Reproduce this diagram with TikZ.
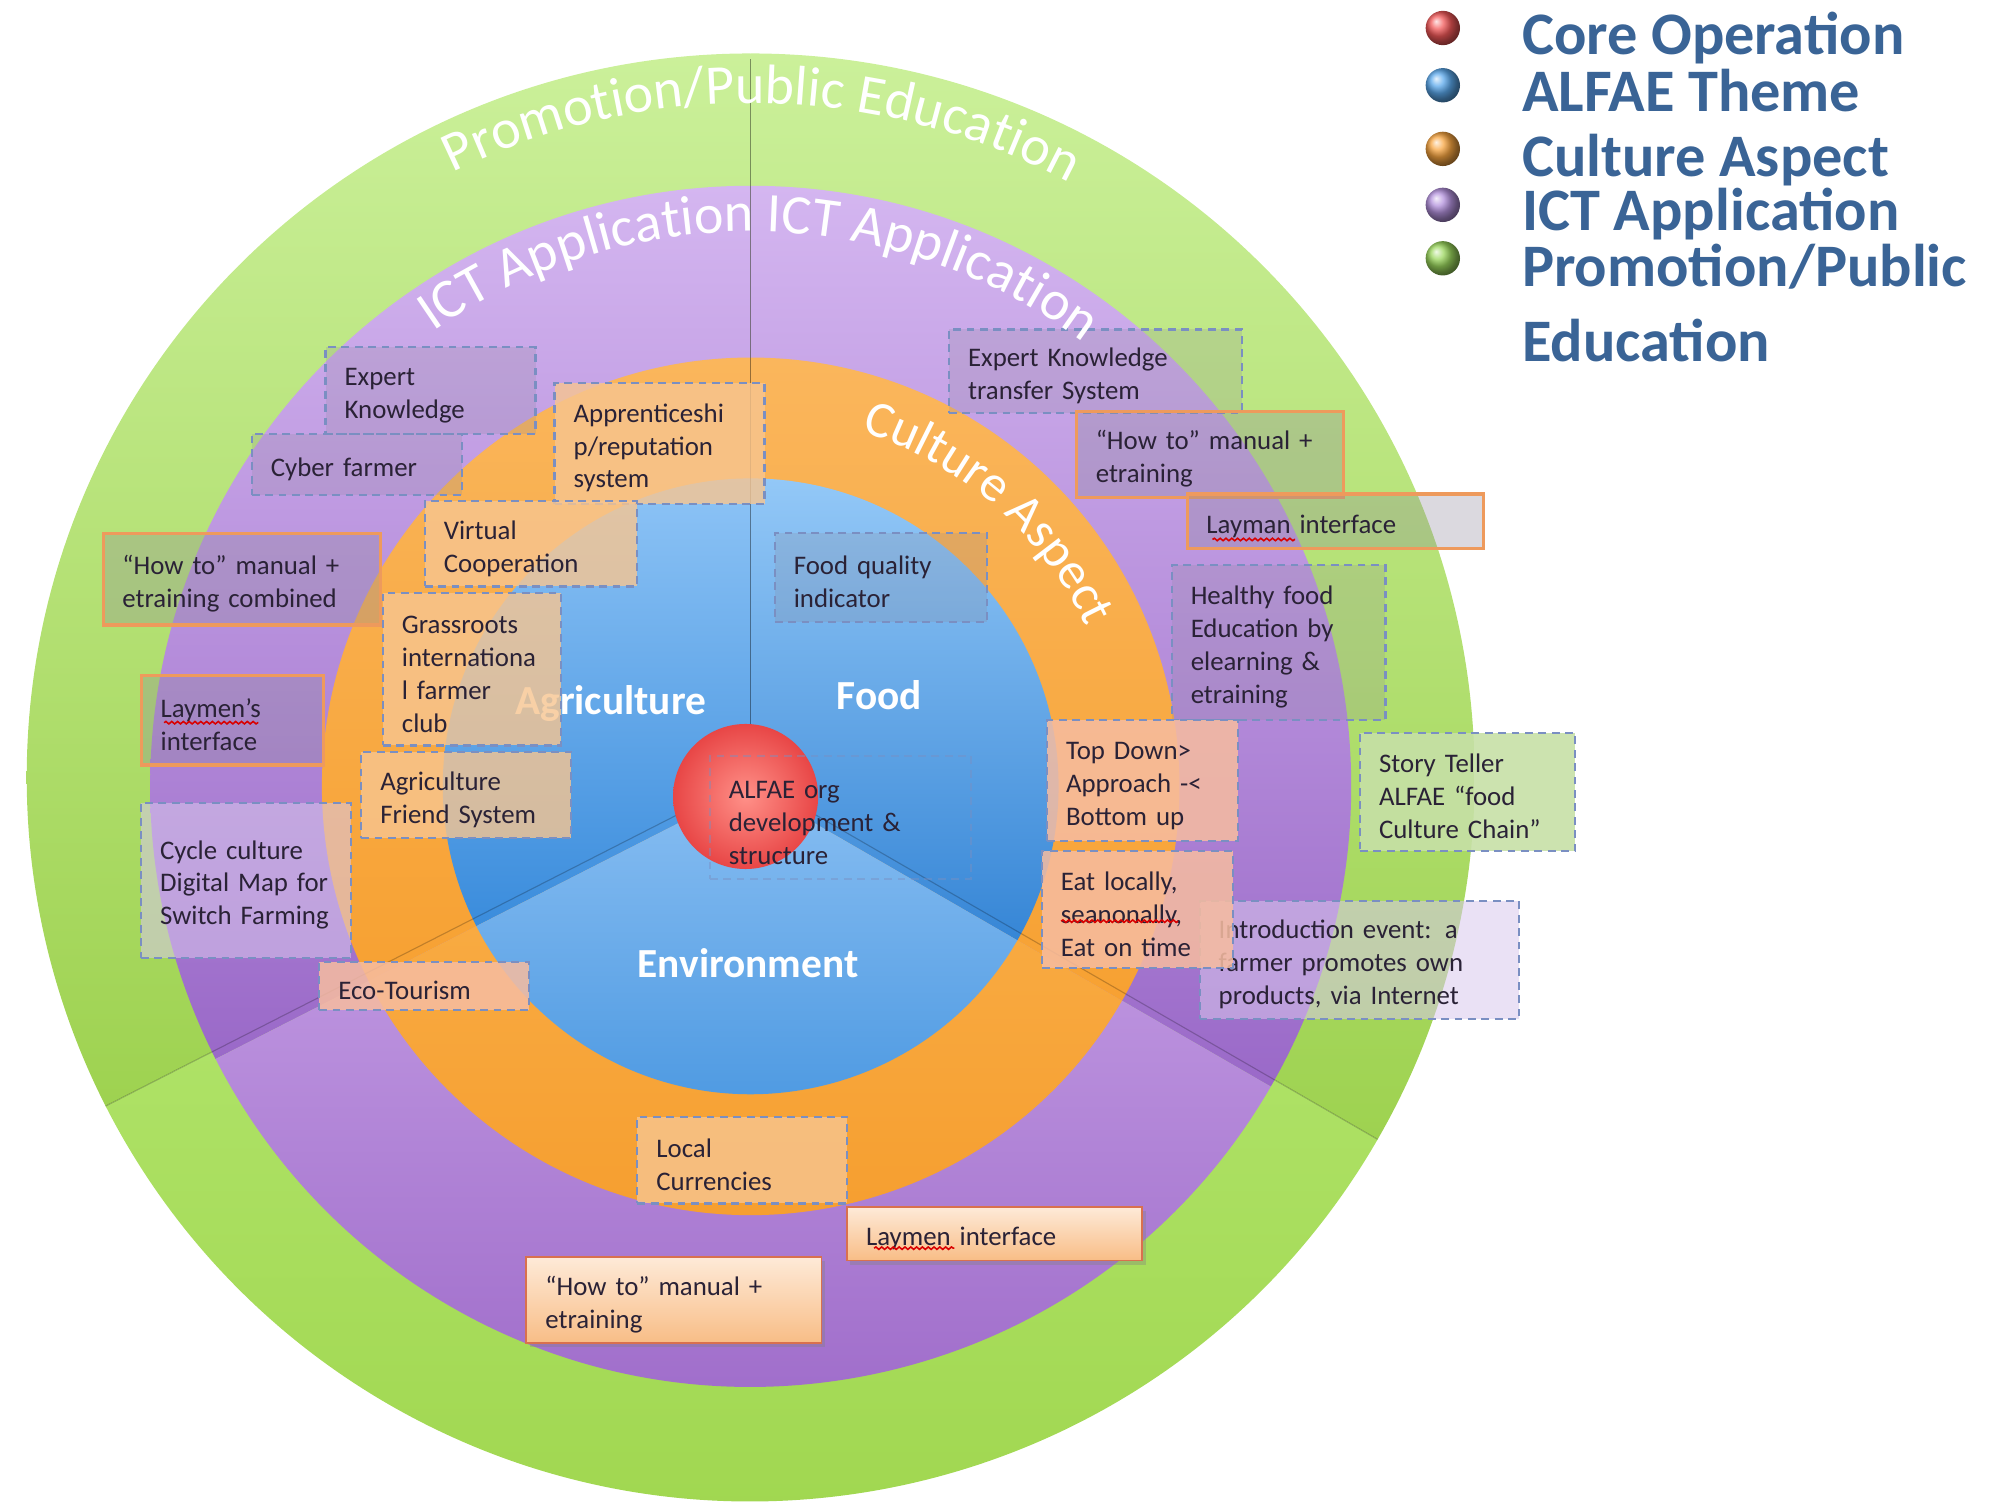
\documentclass[tikz,border=0pt]{standalone}
\usepackage{fontspec}
\setmainfont{Carlito}
\usetikzlibrary{decorations.text,decorations.pathmorphing,shadows,calc}
\def\px{0.02cm}
\definecolor{gA1}{HTML}{CBF09A}\definecolor{gA2}{HTML}{9ED250}
\definecolor{gE1}{HTML}{B6E873}\definecolor{gE2}{HTML}{9ED54C}
\definecolor{pA1}{HTML}{D4B6F0}\definecolor{pA2}{HTML}{9A69C8}
\definecolor{pE1}{HTML}{C9A4E8}\definecolor{pE2}{HTML}{9B67C7}
\definecolor{oA1}{HTML}{FAB65C}\definecolor{oA2}{HTML}{F7A132}
\definecolor{oE1}{HTML}{FAB04A}\definecolor{oE2}{HTML}{F59C2C}
\definecolor{bA1}{HTML}{8EC4F6}\definecolor{bA2}{HTML}{3A8CDC}
\definecolor{bF1}{HTML}{93C8F7}\definecolor{bF2}{HTML}{3686D6}
\definecolor{bE1}{HTML}{88BEF2}\definecolor{bE2}{HTML}{4896E0}
\definecolor{txt}{HTML}{2A2236}
\definecolor{dashc}{HTML}{7A8FC2}
\definecolor{orgb}{HTML}{EE9A5C}
\definecolor{legc}{HTML}{3A6496}
\definecolor{graf}{HTML}{8E8A9A}
\definecolor{orf}{HTML}{F7C590}
\definecolor{salf}{HTML}{F6BCA0}
\definecolor{grnf}{HTML}{C6E0A6}
\definecolor{lavf}{HTML}{D8C8EC}
\definecolor{pbd}{HTML}{D9704E}
\definecolor{pbt}{HTML}{FEEAD8}
\definecolor{pbb}{HTML}{F8BD86}
\definecolor{balli}{HTML}{FF9088}
\definecolor{ballo}{HTML}{E84646}
\definecolor{legb}{HTML}{5AA8EC}
\definecolor{lego}{HTML}{F8A540}
\definecolor{legp}{HTML}{B290DC}
\definecolor{legg}{HTML}{9AD65C}
\definecolor{legr}{HTML}{F25858}
\tikzset{
  bxt/.style={font=\fontsize{12}{14.7}\selectfont, text=txt, align=left,
    inner xsep=0.3cm, inner ysep=0.06cm, text opacity=1,
    execute at begin node={\hyphenpenalty=10000\exhyphenpenalty=10000}},
  dbox/.style={bxt, draw=dashc, line width=1pt, dash pattern=on 3.5pt off 2.5pt},
  obox/.style={bxt, draw=orgb, line width=1.4pt, fill=graf, fill opacity=0.32},
  pbox/.style={bxt, draw=pbd, line width=0.8pt, top color=pbt, bottom color=pbb,
    drop shadow={opacity=0.35, shadow xshift=1.5pt, shadow yshift=-1.8pt}},
  grayf/.style={fill=graf, fill opacity=0.22},
  orangef/.style={fill=orf, fill opacity=0.8},
  salmonf/.style={fill=salf, fill opacity=0.86},
  greenf/.style={fill=grnf, fill opacity=0.9},
  lavenderf/.style={fill=lavf, fill opacity=0.55},
  lab/.style={text=white, font=\bfseries\fontsize{18.5}{20}\selectfont},
  legt/.style={text=legc, font=\bfseries\fontsize{27}{30}\selectfont, anchor=base west, inner sep=0pt},
  squig/.style={red!85!black, line width=0.7pt, decorate, decoration={snake, amplitude=0.55pt, segment length=2.6pt}},
  sline/.style={black, opacity=0.22, line width=0.5pt}
}
\newcommand{\bx}[7]{\node[#1, anchor=north west, minimum width=#5*\px, minimum height=#6*\px, text width=(#5-30)*\px] (#2) at (#3,-#4) {\rule{0pt}{12.5pt}#7};}
\newcommand{\arctext}[6]{%
  \path[decorate, decoration={text along path, text align=center, text={|\fontsize{#5}{#5}\selectfont\color{white}|#6}}]
    ([shift={(#3:#2)}]#1) arc[start angle=#3, end angle=#4, radius=#2];
}
\begin{document}
\begin{tikzpicture}[x=0.02cm, y=0.02cm]
\useasboundingbox (0,0) rectangle (1568,-1188);
\coordinate (G) at (590,-611);
\coordinate (O) at (590,-618);
% green ring
\shade[top color=gA1, bottom color=gA2] (G) -- ++(90:569) arc[start angle=90, end angle=207, radius=569] -- cycle;
\shade[top color=gA1, bottom color=gA2] (G) -- ++(90:569) arc[start angle=90, end angle=-30, radius=569] -- cycle;
\shade[top color=gE1, bottom color=gE2] (G) -- ++(-30:569) arc[start angle=-30, end angle=-153, radius=569] -- cycle;
% purple ring
\shade[top color=pA1, bottom color=pA2] (O) -- ++(90:472) arc[start angle=90, end angle=207, radius=472] -- cycle;
\shade[top color=pA1, bottom color=pA2] (O) -- ++(90:472) arc[start angle=90, end angle=-30, radius=472] -- cycle;
\shade[top color=pE1, bottom color=pE2] (O) -- ++(-30:472) arc[start angle=-30, end angle=-153, radius=472] -- cycle;
% orange ring
\shade[top color=oA1, bottom color=oA2] (O) -- ++(90:337) arc[start angle=90, end angle=207, radius=337] -- cycle;
\shade[top color=oA1, bottom color=oA2] (O) -- ++(90:337) arc[start angle=90, end angle=-30, radius=337] -- cycle;
\shade[top color=oE1, bottom color=oE2] (O) -- ++(-30:337) arc[start angle=-30, end angle=-153, radius=337] -- cycle;
% blue disc
\shade[top color=bA1, bottom color=bA2] (O) -- ++(90:242) arc[start angle=90, end angle=207, radius=242] -- cycle;
\shade[top color=bF1, bottom color=bF2] (O) -- ++(90:242) arc[start angle=90, end angle=-30, radius=242] -- cycle;
\shade[top color=bE1, bottom color=bE2] (O) -- ++(-30:242) arc[start angle=-30, end angle=-153, radius=242] -- cycle;
% sector lines
\draw[sline, opacity=0.4] (O) -- (590,-46);
\draw[sline] (G) -- ++(-30:569);
\draw[sline] (G) -- ++(207:569);
% theme labels
\node[lab] (agr) at (480,-553) {Agriculture};
\node[lab] (food) at (691,-546) {Food};
\node[lab] (env) at (588,-757) {Environment};
% core ball
\shade[inner color=balli, outer color=ballo] (586,-626) circle (57);
% boxes
\bx{dbox,grayf}{ek}{255}{272}{165}{68}{Expert\\Knowledge}
\bx{dbox,grayf}{cf}{197}{340}{165}{48}{Cyber farmer}
\bx{dbox,orangef}{ap}{435}{300}{165}{95}{Apprenticeshi\\p/reputation\\system}
\bx{dbox,orangef}{vc}{333}{393}{167}{67}{Virtual\\Cooperation}
\bx{dbox,orangef}{gr}{300}{465}{140}{120}{Grassroots\\internationa\\l farmer\\club}
\bx{dbox,orangef}{af}{283}{590}{165}{68}{Agriculture\\Friend System}
\bx{dbox,grayf}{fq}{608}{418}{167}{70}{Food quality\\indicator}
\bx{dbox,grayf}{ekt}{745}{258}{230}{66}{Expert Knowledge\\transfer System}
\bx{dbox,grayf}{hf}{920}{443}{168}{122}{Healthy food\\Education by\\elearning \&\\etraining}
\bx{dbox,greenf}{st}{1068}{575}{169}{93}{Story Teller\\ALFAE “food\\Culture Chain”}
\bx{dbox,salmonf}{td}{822}{565}{150}{95}{Top Down>\\Approach -<\\Bottom up}
\bx{dbox,lavenderf}{ie}{942}{707}{251}{93}{Introduction event: a\\farmer promotes own\\products, via Internet}
\bx{dbox,salmonf}{el}{818}{668}{150}{92}{Eat locally,\\seanonally,\\Eat on time}
\bx{dbox,draw opacity=0.45}{ao}{557}{593}{205}{97}{ALFAE org\\development \&\\structure}
\bx{dbox,lavenderf}{cc}{110}{630}{165}{122}{Cycle culture\\Digital Map for\\Switch Farming}
\bx{dbox,salmonf}{et}{250}{755}{165}{38}{Eco-Tourism}
\bx{dbox,orangef}{lc}{500}{877}{165}{68}{Local\\Currencies}
\bx{obox}{ht1}{80}{418}{218}{72}{“How to” manual +\\etraining combined}
\bx{obox}{lm1}{110}{530}{143}{70}{Laymen's\\interface}
\bx{obox}{ht2}{845}{322}{210}{68}{“How to” manual +\\etraining}
\bx{obox}{lm2}{932}{387}{233}{43}{Layman interface}
\bx{pbox}{lm3}{665}{948}{232}{42}{Laymen interface}
\bx{pbox}{ht3}{413}{987}{232}{68}{“How to” manual +\\etraining}
% spelling squiggles
\draw[squig] (129,-568) -- (203,-568);
\draw[squig] (953,-424) -- (1018,-424);
\draw[squig] (834,-724) -- (926,-724);
\draw[squig] (687,-981) -- (750,-981);
% ring titles
\arctext{G}{530}{140}{38}{25}{Promotion/Public Education}
\arctext{O}{436}{140}{38}{25}{ICT Application ICT Application}
\arctext{O}{292}{95}{3}{23}{Culture Aspect}
% legend
\shade[ball color=legr] (1134,-22) circle (13.5);
\shade[ball color=legb] (1134,-67) circle (13.5);
\shade[ball color=lego] (1134,-117) circle (13.5);
\shade[ball color=legp] (1134,-161) circle (13.5);
\shade[ball color=legg] (1134,-203) circle (13.5);
\node[legt] (l1) at (1196,-43) {Core Operation};
\node[legt] (l2) at (1196,-88) {ALFAE Theme};
\node[legt] (l3) at (1196,-139) {Culture Aspect};
\node[legt] (l4) at (1196,-181) {ICT Application};
\node[legt] (l5) at (1196,-225) {Promotion/Public};
\node[legt] (l6) at (1196,-284) {Education};
\end{tikzpicture}
\end{document}
